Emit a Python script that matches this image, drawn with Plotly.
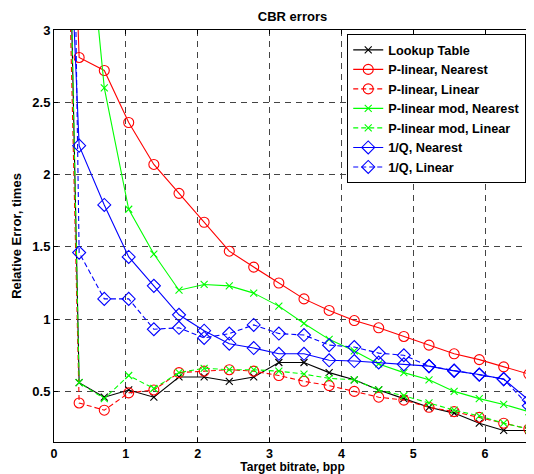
import plotly.graph_objects as go

# Target bitrate (bpp); first point lies far above the visible range
bitrate = [0.0, 0.35, 0.70, 1.04, 1.39, 1.74, 2.09, 2.44, 2.78, 3.13, 3.48,
           3.83, 4.18, 4.52, 4.87, 5.22, 5.57, 5.92, 6.26, 6.61]

lookup_table = [9.0, 0.56, 0.46, 0.51, 0.46, 0.60, 0.60, 0.57, 0.60, 0.70, 0.70,
                0.63, 0.58, 0.51, 0.45, 0.39, 0.35, 0.28, 0.23, 0.23]
plin_nearest = [7.6, 2.81, 2.72, 2.36, 2.07, 1.87, 1.67, 1.47, 1.36, 1.25, 1.14,
                1.06, 0.99, 0.94, 0.88, 0.82, 0.76, 0.72, 0.67, 0.62]
plin_linear = [8.0, 0.42, 0.37, 0.49, 0.51, 0.63, 0.64, 0.65, 0.64, 0.61, 0.57,
               0.54, 0.50, 0.46, 0.44, 0.39, 0.36, 0.32, 0.28, 0.24]
plinmod_nearest = [9.0, 4.4, 2.60, 1.76, 1.45, 1.20, 1.24, 1.23, 1.18, 1.09, 0.97,
                   0.86, 0.78, 0.69, 0.63, 0.58, 0.50, 0.45, 0.41, 0.36]
plinmod_linear = [9.0, 0.56, 0.45, 0.61, 0.52, 0.63, 0.66, 0.65, 0.65, 0.64, 0.62,
                  0.59, 0.58, 0.51, 0.47, 0.42, 0.37, 0.33, 0.28, 0.24]
invq_nearest = [6.3, 2.20, 1.79, 1.43, 1.23, 1.03, 0.92, 0.83, 0.80, 0.76, 0.76,
                0.715, 0.71, 0.70, 0.687, 0.675, 0.642, 0.617, 0.585, 0.44]
invq_linear = [13.5, 1.46, 1.14, 1.14, 0.93, 0.94, 0.87, 0.90, 0.96, 0.90, 0.89,
               0.82, 0.807, 0.765, 0.75, 0.675, 0.645, 0.615, 0.585, 0.40]

x_ticks = [0, 1, 2, 3, 4, 5, 6]
y_ticks = [0.5, 1, 1.5, 2, 2.5, 3]
y_tick_labels = ["0.5", "1", "1.5", "2", "2.5", "3"]

series = [
    ("Lookup Table", lookup_table, "black", "solid", "x-thin-open", 7),
    ("P-linear, Nearest", plin_nearest, "#ff0000", "solid", "circle-open", 10),
    ("P-linear, Linear", plin_linear, "#ff0000", "5px,3px", "circle-open", 10),
    ("P-linear mod, Nearest", plinmod_nearest, "#00ff00", "solid", "x-thin-open", 7),
    ("P-linear mod, Linear", plinmod_linear, "#00ff00", "5px,3px", "x-thin-open", 7),
    ("1/Q, Nearest", invq_nearest, "#0000ff", "solid", "diamond-open", 10),
    ("1/Q, Linear", invq_linear, "#0000ff", "5px,3px", "diamond-open", 10),
]

FONT = "Liberation Sans, Arial, sans-serif"

fig = go.Figure()
for name, vals, color, dash, sym, size in series:
    fig.add_trace(go.Scatter(
        x=bitrate, y=vals, name=name, mode="lines+markers",
        line=dict(color=color, width=1.1, dash=dash),
        marker=dict(symbol=sym, size=size, color=color,
                    line=dict(color=color, width=1.1)),
    ))

axis_common = dict(
    showline=True, linecolor="black", linewidth=1, mirror="ticks",
    ticks="inside", ticklen=4, tickcolor="black",
    showgrid=True, gridcolor="#444444", gridwidth=1, griddash="6px,5px",
    zeroline=False, automargin=False,
)

# The page body keeps an 8px default margin, so the figure is sized to fit the
# 534x474 window from that offset.
fig.update_layout(
    width=526, height=466,
    margin=dict(l=46, r=3, t=22, b=32),
    paper_bgcolor="white", plot_bgcolor="white",
    title=dict(text="CBR errors", x=0.5, xref="paper", y=1 - 8 / 466,
               yref="container", yanchor="middle",
               font=dict(family=FONT, size=13, color="black", weight="bold")),
    xaxis=dict(range=[0, 6.64], tickvals=x_ticks,
               tickfont=dict(family=FONT, size=12.5, color="black", weight="bold"),
               title=dict(text="Target bitrate, bpp", standoff=8,
                          font=dict(family=FONT, size=12, color="black", weight="bold")),
               **axis_common),
    yaxis=dict(range=[0.15, 3], tickvals=y_ticks, ticktext=y_tick_labels,
               tickfont=dict(family=FONT, size=13, color="black", weight="bold"),
               title=dict(text="Relative Error, times", standoff=7,
                          font=dict(family=FONT, size=13, color="black", weight="bold")),
               **axis_common),
    legend=dict(x=0.99, y=0.99, xanchor="right", yanchor="top",
                bgcolor="white", bordercolor="black", borderwidth=1,
                tracegroupgap=0,
                font=dict(family=FONT, size=12.7, color="black", weight="bold")),
    showlegend=True,
)

fig.write_html("out.html")
